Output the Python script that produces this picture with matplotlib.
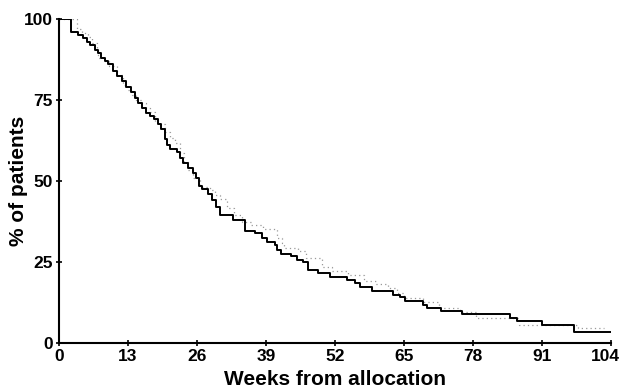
import matplotlib
matplotlib.use("Agg")
import matplotlib.pyplot as plt
import matplotlib.transforms as mtransforms

# Solid curve (step times in weeks, % after step)
solid_weeks = [0, 2.2, 3.6, 4.5, 5.3, 5.8, 6.7, 7.4, 8.0, 8.6, 9.2, 10.2, 11.0, 11.8,
               12.7, 13.5, 14.3, 14.9, 15.6, 16.3, 17.1, 17.9, 18.7, 19.2, 20.0, 20.3,
               21.0, 22.2, 22.8, 23.4, 24.3, 25.2, 25.9, 26.3, 27.0, 28.1, 28.8, 29.5,
               30.3, 32.8, 35.0, 36.9, 38.2, 39.1, 40.7, 41.0, 41.9, 43.8, 44.8, 46.0,
               47.0, 48.8, 51.0, 54.2, 55.7, 56.8, 58.9, 62.9, 64.2, 65.2, 68.6, 69.3,
               72.0, 76.0, 85.0, 86.2, 91.0, 97.0, 104.0]
solid_pct = [100, 96, 95, 94, 93, 92, 90.5, 89.5, 88, 87, 86, 84, 82.5, 81,
             79, 77.5, 75.5, 74, 72.5, 71, 70, 69, 67.5, 66, 63, 61,
             60, 59, 57, 55.5, 54, 52.5, 51, 48.5, 47.5, 46, 44, 42,
             39.5, 38, 34.5, 34, 32.4, 31.3, 30.2, 28.6, 27.6, 26.8, 25.6, 25.1,
             22.5, 21.5, 20.3, 19.4, 18.4, 17.4, 16, 14.8, 14.2, 13, 11.7, 10.9,
             9.9, 8.9, 7.8, 6.8, 5.6, 3.5, 3.5]

# Dotted curve
dotted_weeks = [0, 3.3, 4.4, 5.5, 6.3, 7.1, 7.4, 8.5, 9.5, 10.9, 12.1, 13.0, 13.7, 14.6,
                15.6, 16.3, 17.1, 18.1, 19.0, 20.0, 20.9, 21.8, 22.8, 23.5, 24.3, 25.3,
                26.5, 28.4, 29.4, 30.3, 31.6, 33.0, 34.5, 36.2, 38.5, 41.0, 42.0, 42.3,
                45.0, 46.6, 49.5, 51.5, 54.5, 57.5, 59.7, 62.0, 63.7, 65.0, 68.5, 71.6,
                75.5, 78.6, 86.6, 97.7, 102.7]
dotted_pct = [100, 97, 95.6, 94.5, 92.5, 90.4, 88, 87, 85.5, 82.7, 79.6, 78, 76.5, 75,
              74, 72.5, 71.4, 68.3, 67.6, 65, 63.2, 61.6, 58.5, 56, 53.4, 51,
              48.2, 47.2, 45.7, 44.4, 41.6, 39.5, 37.4, 36.4, 35.2, 32.4, 30.8, 29.3,
              28.5, 26.2, 23.4, 22.3, 21, 19.2, 18.2, 17, 15.4, 13.9, 12.7, 10.8,
              9.7, 7.8, 5.6, 4.5, 4.5]

x_ticks = [0, 13, 26, 39, 52, 65, 78, 91, 104]
y_ticks = [0, 25, 50, 75, 100]

plt.rcParams['font.family'] = ['Liberation Sans', 'DejaVu Sans']

fig = plt.figure(figsize=(6.22, 3.92), dpi=100)
ax = fig.add_axes([59/622, 1-343/392, (611-59)/622, (343-19)/392])

ax.step(dotted_weeks, dotted_pct, where='post', color='#999999', lw=0.9,
        linestyle=(0, (1, 2.5)))
ax.step(solid_weeks, solid_pct, where='post', color='black', lw=1.4)

ax.set_xlim(0, 104)
ax.set_ylim(0, 100)
ax.set_xticks(x_ticks)
ax.set_yticks(y_ticks)
ax.spines['top'].set_visible(False)
ax.spines['right'].set_visible(False)
ax.spines['left'].set_linewidth(1.5)
ax.spines['bottom'].set_linewidth(1.5)
ax.tick_params(direction='inout', length=5, width=1.2, labelsize=12.5, pad=2)
for lab in ax.get_xticklabels() + ax.get_yticklabels():
    lab.set_fontweight('bold')

# keep the last x tick label inside the figure
last = ax.get_xticklabels()[-1]
last.set_transform(last.get_transform() +
                   mtransforms.ScaledTranslation(-6/100, 0, fig.dpi_scale_trans))

ax.set_xlabel('Weeks from allocation', fontsize=15, fontweight='bold')
ax.xaxis.set_label_coords(0.5, -0.083)
ax.set_ylabel('% of patients', fontsize=15, fontweight='bold')
ax.yaxis.set_label_coords(-0.056, 0.5)

fig.savefig('out.png', dpi=100)
